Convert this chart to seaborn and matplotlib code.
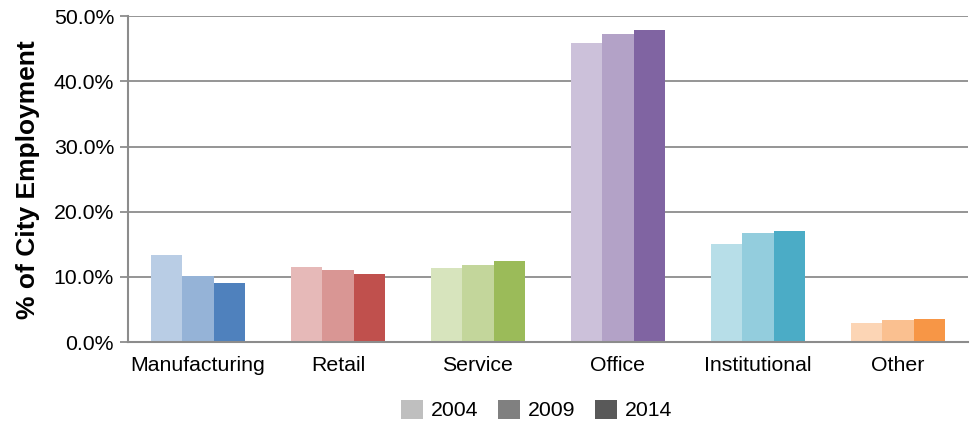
import numpy as np
import pandas as pd
import matplotlib
matplotlib.use("Agg")
import matplotlib.pyplot as plt
import seaborn as sns
from matplotlib.patches import Patch
from matplotlib.ticker import PercentFormatter

categories = ["Manufacturing", "Retail", "Service", "Office", "Institutional", "Other"]
years = ["2004", "2009", "2014"]
share_2004 = [13.4, 11.5, 11.3, 45.9, 15.0, 2.9]
share_2009 = [10.1, 11.0, 11.8, 47.2, 16.7, 3.4]
share_2014 = [9.0, 10.4, 12.4, 47.9, 17.0, 3.5]

# light -> dark shade per category, one per year
shades = {
    "Manufacturing": ["#B9CDE5", "#95B3D7", "#4F81BD"],
    "Retail": ["#E6B9B8", "#D99694", "#C0504D"],
    "Service": ["#D7E4BD", "#C3D69B", "#9BBB59"],
    "Office": ["#CCC1DA", "#B3A2C7", "#8064A2"],
    "Institutional": ["#B7DEE8", "#93CDDD", "#4BACC6"],
    "Other": ["#FCD5B5", "#FAC090", "#F79646"],
}
legend_colors = ["#BFBFBF", "#808080", "#595959"]

df = pd.DataFrame({
    "category": categories * 3,
    "year": [y for y in years for _ in categories],
    "share": share_2004 + share_2009 + share_2014,
})

sns.set_style("white")
plt.rcParams["font.family"] = ["Liberation Sans", "DejaVu Sans"]
plt.rcParams["text.color"] = "black"
plt.rcParams["axes.labelcolor"] = "black"
plt.rcParams["xtick.color"] = "black"
plt.rcParams["ytick.color"] = "black"

fig = plt.figure(figsize=(9.74, 4.24), dpi=100)
ax = fig.add_axes([0.1314, 0.193, 0.8624, 0.769])

sns.barplot(data=df, x="category", y="share", hue="year", order=categories,
            hue_order=years, width=0.67, gap=0, saturation=1,
            palette=legend_colors, legend=False, ax=ax)

for i, cont in enumerate(ax.containers):
    for j, bar in enumerate(cont):
        bar.set_facecolor(shades[categories[j]][i])
        bar.set_edgecolor("none")

ax.set_ylim(0, 50)
ax.set_xlim(-0.5, len(categories) - 0.5)
ax.set_yticks(np.arange(0, 51, 10))
ax.yaxis.set_major_formatter(PercentFormatter(decimals=1))
ax.grid(axis="y", color="#8C8C8C", linewidth=1.3)
ax.set_axisbelow(True)

for side in ["top", "right"]:
    ax.spines[side].set_visible(False)
for side in ["left", "bottom"]:
    ax.spines[side].set_color("#8C8C8C")
    ax.spines[side].set_linewidth(1.5)

ax.tick_params(axis="y", length=6, width=1.3, color="#8C8C8C", labelcolor="black",
               labelsize=15.3, left=True, pad=4)
ax.tick_params(axis="x", length=0, labelsize=15.3, labelcolor="black", pad=10)
ax.set_xlabel("")
ax.set_ylabel("% of City Employment", fontsize=19, fontweight="bold",
              labelpad=10, color="black")

handles = [Patch(facecolor=c, edgecolor="none", label=y) for c, y in zip(legend_colors, years)]
fig.legend(handles=handles, loc="center", ncol=3, frameon=False,
           bbox_to_anchor=(0.551, 0.033), fontsize=15.3, handlelength=1.0,
           handleheight=1.0, columnspacing=0.95, handletextpad=0.38,
           labelcolor="black")

fig.savefig("out.png", dpi=100)
